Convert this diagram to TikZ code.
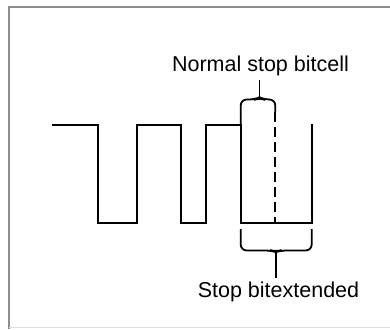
\documentclass[tikz,border=0pt]{standalone}
\usepackage{fontspec}
\setmainfont{Liberation Sans}
\begin{document}
\begin{tikzpicture}[x=1pt,y=-1pt,
  wave/.style={line width=1.8pt,line join=miter},
  brk/.style={line width=1.8pt,rounded corners=6pt},
  lbl/.style={font=\fontsize{21.5}{24}\selectfont,inner sep=0pt,text=black},
  frame/.style={draw=black!45,line width=2pt}]
\useasboundingbox (0,0) rectangle (390,329);
% frame
\draw[frame] (9,329) -- (9,7) -- (390,7);
\draw[draw=black!12,line width=1pt] (9,327.5) -- (390,327.5);
% waveform
\draw[wave] (51.7,125) -- (97.7,125) -- (97.7,222.7) -- (136.7,222.7) -- (136.7,125)
  -- (181,125) -- (181,222.7) -- (205.7,222.7) -- (205.7,125) -- (240.7,125)
  -- (240.7,222.7) -- (311.7,222.7) -- (311.7,123.5);
% dashed boundary
\draw[line width=1.8pt,dash pattern=on 10pt off 5pt] (275.3,112) -- (275.3,222.7);
% labels
\node[lbl,anchor=base] (top) at (260.5,71) {Normal stop bitcell};
\node[lbl,anchor=base] (bot) at (278.5,297) {Stop bitextended};
% upper bracket
\coordinate (tstem) at (259.5,97.5);
\draw[brk] (240.7,125) -- (240.7,99.5) -- (255,99.5) -- (259.5,97.5) -- (264,99.5) -- (275.3,99.5) -- (275.3,112);
\draw[line width=1.8pt] (tstem) -- ([yshift=-4pt]top.south -| tstem);
% lower bracket
\coordinate (bstem) at (275.8,251);
\draw[brk] (240.7,229) -- (240.7,250.5) -- (271.3,250.5) -- (275.8,252) -- (280.3,250.5) -- (311.7,250.5) -- (311.7,229);
\draw[line width=1.8pt] (bstem) -- ([yshift=3pt]bot.north -| bstem);
\end{tikzpicture}
\end{document}
